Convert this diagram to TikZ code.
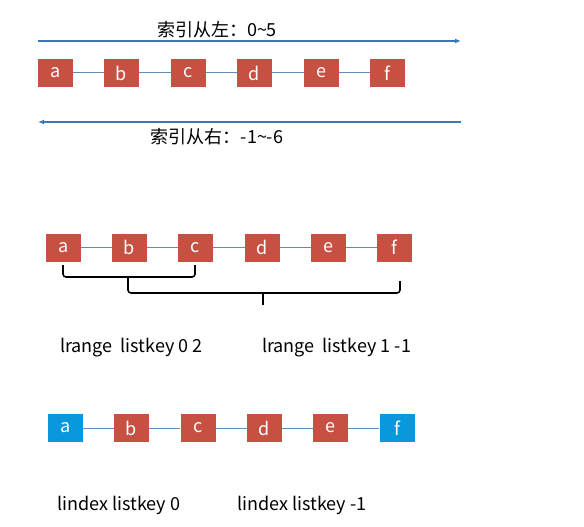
\documentclass[tikz,border=0pt]{standalone}
\usepackage{fontspec}
\setmainfont{Noto Sans CJK SC}
\usetikzlibrary{arrows.meta}
\definecolor{boxred}{RGB}{198,80,66}
\definecolor{boxblue}{RGB}{10,152,220}
\definecolor{linkblue}{RGB}{95,140,185}
\definecolor{arrblue}{RGB}{60,120,185}
\tikzset{
  cell/.style={draw=none, fill=boxred, minimum width=35pt, minimum height=28pt, inner sep=0pt, text=white, font=\fontsize{18}{18}\selectfont},
  bcell/.style={cell, fill=boxblue},
  link/.style={draw=linkblue, line width=1pt},
  idxarrow/.style={draw=arrblue, line width=1.2pt, -{Latex[length=6pt,width=5pt]}},
  lbl/.style={font=\fontsize{18}{18}\selectfont, text=black, inner sep=0pt},
  bracestyle/.style={draw=black, line width=1.6pt, rounded corners=3pt}
}
\begin{document}
\begin{tikzpicture}[x=1pt,y=-1pt]
\useasboundingbox (0,0) rectangle (584,527);
% Row 1
\foreach \n/\x in {a/55.5,b/121.5,c/188.5,d/254.5,e/321.5,f/387.5}{
  \node[cell] (\n1) at (\x,73) {\n};
}
\foreach \p/\q in {a/b,b/c,c/d,d/e,e/f}{ \path[link] (\p1) -- (\q1); }
\coordinate (tl) at (38,41); \coordinate (tr) at (461,41);
\coordinate (bl) at (38,122); \coordinate (br) at (461,122);
\draw[idxarrow] (tl) -- (tr);
\draw[idxarrow] (br) -- (bl);
\node[lbl] (t1) at (217,30) {索引从左：0\textasciitilde5};
\node[lbl] (t2) at (217,137) {索引从右：-1\textasciitilde-6};
% Row 2
\foreach \n/\x in {a/63.5,b/129.5,c/195.5,d/262.5,e/328.5,f/394.5}{
  \node[cell] (\n2) at (\x,247.5) {\n};
}
\foreach \p/\q in {a/b,b/c,c/d,d/e,e/f}{ \path[link] (\p2) -- (\q2); }
% braces
\draw[bracestyle] (63,265) -- (63,277) -- (195,277) -- (195,265);
\draw[line width=1.6pt] (128,277) -- (128,285);
\draw[bracestyle] (128,281) -- (128,293) -- (400,293) -- (400,281);
\draw[line width=1.6pt] (263,293) -- (263,305);
\node[lbl, anchor=west] (r1) at (60,348) {lrange\ \ listkey 0 2};
\node[lbl, anchor=west] (r2) at (262,348) {lrange\ \ listkey 1 -1};
% Row 3
\foreach \n/\x/\s in {a/65.5/bcell,b/131.5/cell,c/198/cell,d/264.5/cell,e/330.5/cell,f/397/bcell}{
  \node[\s] (\n3) at (\x,428) {\n};
}
\foreach \p/\q in {a/b,b/c,c/d,d/e,e/f}{ \path[link] (\p3) -- (\q3); }
\node[lbl, anchor=west] (i1) at (57,505) {lindex listkey 0};
\node[lbl, anchor=west] (i2) at (237,505) {lindex listkey -1};
\end{tikzpicture}
\end{document}
